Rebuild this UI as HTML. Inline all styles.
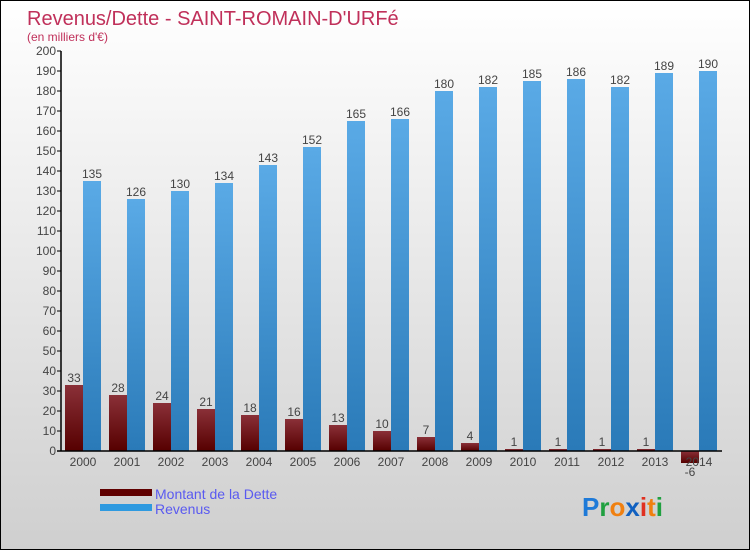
<!DOCTYPE html>
<html><head><meta charset="utf-8"><style>
body{margin:0}
#c{width:750px;height:550px;position:relative;overflow:hidden;box-sizing:border-box;border:1px solid #000;background:linear-gradient(#ffffff,#cfcfcf);font-family:"Liberation Sans",sans-serif}
</style></head><body>
<div id="c">
<svg id="s" width="750" height="550" style="position:absolute;left:-1px;top:-1px">
<defs>
<linearGradient id="gd" x1="0" y1="0" x2="0" y2="1"><stop offset="0" stop-color="#8a3038"/><stop offset="1" stop-color="#560000"/></linearGradient>
<linearGradient id="gr" x1="0" y1="0" x2="0" y2="1"><stop offset="0" stop-color="#5aaae6"/><stop offset="1" stop-color="#2a7ab8"/></linearGradient>
</defs>
<text x="27" y="25" font-size="20" fill="#c0305a">Revenus/Dette - SAINT-ROMAIN-D'URFé</text>
<text x="27" y="41" font-size="12" fill="#c0305a">(en milliers d'€)</text>
<g id="plot"></g>
<rect x="100" y="489" width="52" height="7" fill="#600000"/>
<rect x="100" y="504" width="52" height="7" fill="#2f9ae0"/>
<text x="155" y="499" font-size="14" fill="#5a5af0">Montant de la Dette</text>
<text x="155" y="514" font-size="14" fill="#5a5af0">Revenus</text>
<text x="582" y="516" font-size="26" font-weight="bold"><tspan fill="#1e7ad8">P</tspan><tspan fill="#20a040">r</tspan><tspan fill="#f08010">o</tspan><tspan fill="#1060c0">x</tspan><tspan fill="#e03020">i</tspan><tspan fill="#f08010">t</tspan><tspan fill="#20a040">i</tspan></text>
</svg>
</div>
<script>
const years=["2000","2001","2002","2003","2004","2005","2006","2007","2008","2009","2010","2011","2012","2013","2014"];
const dette=[33,28,24,21,18,16,13,10,7,4,1,1,1,1,-6];
const revenus=[135,126,130,134,143,152,165,166,180,182,185,186,182,189,190];
const ticks=[0,10,20,30,40,50,60,70,80,90,100,110,120,130,140,150,160,170,180,190,200];
const NS="http://www.w3.org/2000/svg";
const g=document.getElementById('plot');
const x0=61,x1=722,yb=451,k=2,step=44;
const y=v=>yb-v*k;
const cx=i=>x0+22+i*step;
function el(t,a,txt){const e=document.createElementNS(NS,t);for(const n in a)e.setAttribute(n,a[n]);if(txt!==undefined)e.textContent=txt;g.appendChild(e);return e;}
ticks.forEach(t=>{
 const l=el('line',{x1:x0-4,x2:x0,y1:y(t),y2:y(t),stroke:'#000'});
 
 
 const tx=el('text',{x:x0-5,y:y(t)+4,'font-size':12,fill:'#444','text-anchor':'end'},t);
 
 
});
years.forEach((yr,i)=>{
 const c=cx(i);
 const d=dette[i];
 const b1=el('rect',{x:c-18,y:Math.min(y(d),yb),width:18,height:Math.abs(d*k),fill:'url(#gd)'});
 
 
 const l1=el('text',{x:c-9,y:d>=0?y(d)-3:y(d)+13,'font-size':12,fill:'#444','text-anchor':'middle'},d);
 
 
 const r=revenus[i];
 const b2=el('rect',{x:c,y:y(r),width:18,height:r*k,fill:'url(#gr)'});
 
 
 const l2=el('text',{x:c+9,y:y(r)-3,'font-size':12,fill:'#444','text-anchor':'middle'},r);
 
 
 const xl=el('text',{x:c,y:yb+15,'font-size':12,fill:'#444','text-anchor':'middle'},yr);
 
 
});
const ya=el('line',{x1:x0,x2:x0,y1:y(200),y2:yb,stroke:'#000','stroke-width':1.5});


const xa=el('line',{x1:x0-4,x2:x1,y1:yb,y2:yb,stroke:'#000','stroke-width':1.5});


</script>
</body></html>
